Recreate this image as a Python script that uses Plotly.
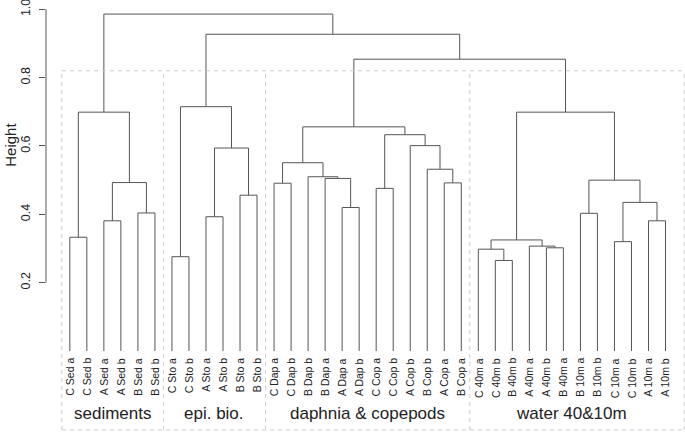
import plotly.graph_objects as go

# ---- data -------------------------------------------------------------
labels = ["C Sed a", "C Sed b", "A Sed a", "A Sed b", "B Sed a", "B Sed b",
          "C Sto a", "C Sto b", "A Sto a", "A Sto b", "B Sto a", "B Sto b",
          "C Dap a", "C Dap b", "B Dap b", "B Dap a", "A Dap a", "A Dap b",
          "C Cop a", "C Cop b", "A Cop b", "B Cop b", "A Cop a", "B Cop a",
          "C 40m a", "C 40m b", "B 40m b", "A 40m a", "A 40m b", "B 40m a",
          "B 10m a", "B 10m b", "C 10m a", "C 10m b", "A 10m a", "A 10m b"]

# hclust-style merge table: negative = leaf (1-based), positive = earlier merge (1-based)
merge_left = [-1, -3, -5, 2, 1, -7, -9, -11, 7, 6,
              -13, -17, -16, -15, 11, -19, -23, -22, -21, 16, 15,
              -26, -25, -29, -28, 23, -31, -33, -35, 28, 27, 26,
              21, 10, 5]
merge_right = [-2, -4, -6, 3, 4, -8, -10, -12, 8, 9,
               -14, -18, 12, 13, 14, -20, -24, 17, 18, 19, 20,
               -27, 22, -30, 24, 25, -32, -34, -36, 29, 30, 31,
               32, 33, 34]
merge_height = [0.333, 0.381, 0.404, 0.493, 0.699, 0.276, 0.393, 0.456, 0.594, 0.715,
                0.491, 0.420, 0.505, 0.510, 0.551, 0.476, 0.492, 0.532, 0.601, 0.633, 0.656,
                0.265, 0.298, 0.302, 0.307, 0.325, 0.403, 0.320, 0.381, 0.435, 0.500, 0.699,
                0.854, 0.927, 0.986]

group_names = ["sediments", "epi. bio.", "daphnia & copepods", "water 40&10m"]
group_sizes = [6, 6, 12, 12]

y_ticks = [0.2, 0.4, 0.6, 0.8, 1.0]
y_ticktext = ["0.2", "0.4", "0.6", "0.8", "1.0"]

# ---- build dendrogram segments ---------------------------------------
LINE = "#555555"
TEXT = "#222222"
FONT = "Liberation Sans, Arial, sans-serif"

node_x = {}
node_y = {}

def pos(ref):
    if ref < 0:
        return float(-ref - 1), 0.0
    return node_x[ref], node_y[ref]

xs, ys = [], []
for i, (l, r, h) in enumerate(zip(merge_left, merge_right, merge_height), start=1):
    xl, yl = pos(l)
    xr, yr = pos(r)
    xs += [xl, xl, xr, xr, None]
    ys += [yl, h, h, yr, None]
    node_x[i] = (xl + xr) / 2
    node_y[i] = h

fig = go.Figure()
fig.add_trace(go.Scatter(x=xs, y=ys, mode="lines",
                         line=dict(color=LINE, width=1),
                         hoverinfo="skip", showlegend=False))

# leaf labels
for i, lab in enumerate(labels):
    fig.add_annotation(x=i, y=-0.014, xref="x", yref="y", text=lab,
                       textangle=-90, showarrow=False, xanchor="center",
                       yanchor="top", font=dict(family=FONT, size=10.5, color=TEXT))

# group boxes (dashed) and group names
box_top, box_bot = 0.82, -0.231
DASH = dict(color="#cccccc", width=1, dash="4px,4px")
start = 0
bounds = [-0.47]
for name, n in zip(group_names, group_sizes):
    centre = start + (n - 1) / 2
    fig.add_annotation(x=centre, y=-0.183, xref="x", yref="y", text=name,
                       showarrow=False, xanchor="center", yanchor="middle",
                       font=dict(family=FONT, size=17, color=TEXT))
    start += n
    bounds.append(start - 0.5)
bounds[-1] = 36.1

for b in bounds:
    fig.add_shape(type="line", xref="x", yref="y", x0=b, x1=b, y0=box_bot, y1=box_top,
                  line=DASH)
fig.add_shape(type="line", xref="x", yref="y", x0=bounds[0], x1=bounds[-1],
              y0=box_top, y1=box_top, line=DASH)
fig.add_shape(type="line", xref="x", yref="y", x0=bounds[0], x1=bounds[-1],
              y0=box_bot, y1=box_bot, line=DASH)

# R-style axis line only between first and last tick
fig.add_shape(type="line", xref="paper", yref="y", x0=0, x1=0, y0=0.2, y1=1.0,
              line=dict(color=LINE, width=1))

fig.add_annotation(x=-0.072, y=0.605, xref="paper", yref="y", text="Height",
                   textangle=-90, showarrow=False, xanchor="left", yanchor="middle",
                   font=dict(family=FONT, size=15, color=TEXT))

fig.update_layout(
    width=685, height=432,
    margin=dict(l=46, r=0, t=0, b=0, autoexpand=False),
    plot_bgcolor="white", paper_bgcolor="white",
    showlegend=False,
    xaxis=dict(range=[-1.4, 36.145], visible=False, fixedrange=True, automargin=False),
    yaxis=dict(range=[-0.237, 1.0272], tickvals=y_ticks, ticktext=y_ticktext,
               ticks="outside", ticklen=6, tickcolor=LINE, tickwidth=1,
               tickangle=-90, showgrid=False, zeroline=False, showline=False,
               automargin=False, ticklabelstandoff=4, ticklabeloverflow="allow",
               tickfont=dict(family=FONT, size=12.5, color=TEXT)),
)

fig.write_html("out.html", config={"displayModeBar": False},
               post_script="document.body.style.margin='0';document.body.style.padding='0';")
